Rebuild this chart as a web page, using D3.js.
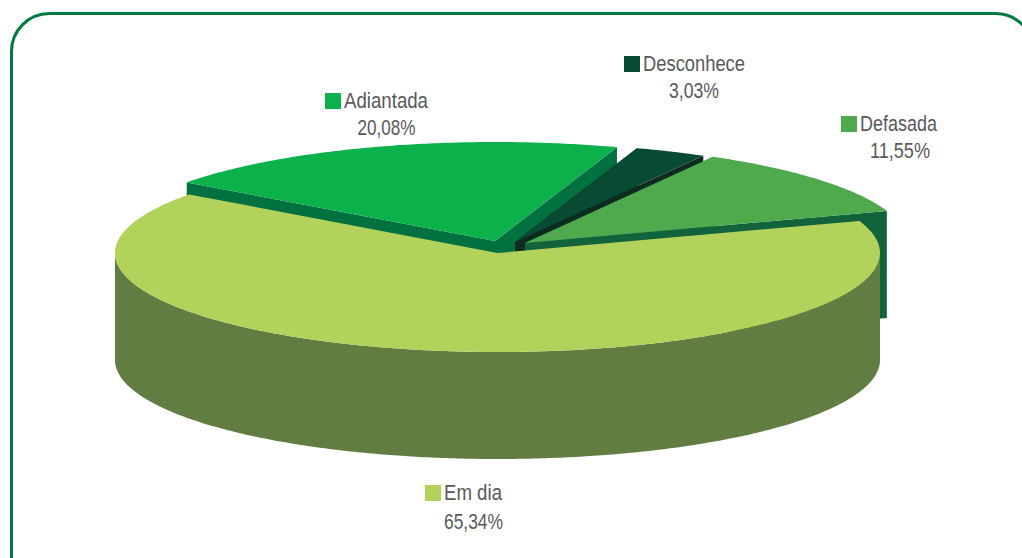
<!DOCTYPE html>
<html>
<head>
<meta charset="utf-8">
<title>Situação</title>
<script src="https://cdn.jsdelivr.net/npm/d3@7/dist/d3.min.js"></script>
<style>
    html, body { margin: 0; padding: 0; background: #fff; overflow: hidden; }
    text { font-family: "Liberation Sans", sans-serif; fill: #58595b; font-size: 22px; }
</style>
</head>
<body>
<script>
    // chart data
    var categories = ["Adiantada", "Desconhece", "Defasada", "Em dia"];
    var values = [20.08, 3.03, 11.55, 65.34];
    var valueLabels = ["20,08%", "3,03%", "11,55%", "65,34%"];

    var topColors = ["#0db14b", "#094a32", "#4eaa4d", "#b2d25b"];
    var wallColors = ["#00713f", "#0d2b1f", "#12633c", "#627d42"];

    var svgWidth = 1022;
    var svgHeight = 558;
    var rx = 382.5, ry = 99, depth = 107;

    // where each slice ends up once pulled out of the pie: centre of top face
    var centers = [[495, 241], [515, 242], [525, 243], [497.5, 253]];
    // legend: swatch corner, centre of value label, then the text widths (the original face is condensed)
    var legendPos = [[325, 93, 386.5, 135], [624, 56, 694, 97.5], [841, 116, 900, 158], [425, 485, 473.5, 528.5]];
    var nameWidth = [84, 102, 77, 58];
    var valueWidth = [58, 50, 60, 59];

    var svg = d3.select("body").append("svg")
        .attr("width", svgWidth)
        .attr("height", svgHeight)
        .style("display", "block");

    // frame, runs off the page right and bottom
    svg.append("rect")
        .attr("x", 11.5).attr("y", 13.5)
        .attr("width", 1022).attr("height", 620)
        .attr("rx", 38).attr("ry", 38)
        .attr("fill", "none")
        .attr("stroke", "#007a3d")
        .attr("stroke-width", 3);

    // unit circle -> ellipse
    var xUnit = d3.scaleLinear().domain([-1, 1]).range([-rx, rx]);
    var yUnit = d3.scaleLinear().domain([-1, 1]).range([-ry, ry]);

    var pie = d3.pie().sort(null)
        .startAngle(-53.7 * Math.PI / 180)
        .endAngle((360 - 53.7) * Math.PI / 180);
    var slices = pie(values);

    var line = d3.line();

    function rim(c, from, to, dy) {
        var n = Math.max(2, Math.ceil((to - from) / 0.01));
        return d3.range(n + 1).map(function (i) {
            var a = from + (to - from) * i / n;
            return [c[0] + xUnit(Math.sin(a)), c[1] + dy + yUnit(-Math.cos(a))];
        });
    }

    slices.forEach(function (d, i) {
        var c = centers[i];
        var g = svg.append("g").attr("class", "slice");
        var upper = rim(c, d.startAngle, d.endAngle, 0);

        // cut faces, the big slice has its own at the back so they never show
        if (d.endAngle - d.startAngle < Math.PI) {
            [upper[0], upper[upper.length - 1]].forEach(function (p) {
                g.append("path")
                    .attr("d", line([c, p, [p[0], p[1] + depth], [c[0], c[1] + depth]]) + "Z")
                    .attr("fill", wallColors[i]);
            });
        }

        // outer wall, only the front half of the ellipse can be seen
        var from = Math.max(d.startAngle, Math.PI / 2);
        var to = Math.min(d.endAngle, 3 * Math.PI / 2);
        if (to > from) {
            var a = rim(c, from, to, 0);
            var b = rim(c, from, to, depth).reverse();
            g.append("path")
                .attr("d", line(a.concat(b)) + "Z")
                .attr("fill", wallColors[i]);
        }

        // top face
        g.append("path")
            .attr("d", line([c].concat(upper)) + "Z")
            .attr("fill", topColors[i]);
    });

    // labels
    categories.forEach(function (name, i) {
        var p = legendPos[i];
        svg.append("rect")
            .attr("x", p[0]).attr("y", p[1])
            .attr("width", 16).attr("height", 16)
            .attr("fill", topColors[i]);
        svg.append("text")
            .attr("x", p[0] + 19).attr("y", p[1] + 14.5)
            .attr("textLength", nameWidth[i])
            .attr("lengthAdjust", "spacingAndGlyphs")
            .text(name);
        svg.append("text")
            .attr("x", p[2] - valueWidth[i] / 2).attr("y", p[3])
            .attr("textLength", valueWidth[i])
            .attr("lengthAdjust", "spacingAndGlyphs")
            .text(valueLabels[i]);
    });
</script>
</body>
</html>
